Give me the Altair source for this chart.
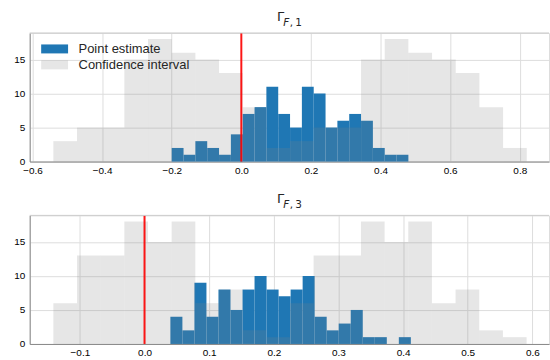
import altair as alt
import pandas as pd

# ---------------- data ----------------
SERIES = ["Point estimate", "Confidence interval"]
SERIES_COLORS = ["#1f77b4", "#808080"]
SERIES_OPACITY = [1.0, 0.2]

TOP_POINT_COUNTS = [2, 1, 3, 2, 1, 4, 7, 8, 11, 7, 5, 11, 10, 5, 6, 7, 6, 2, 1, 1]
TOP_POINT_RANGE = [-0.2, 0.48]
TOP_CI_COUNTS = [3, 5, 5, 15, 18, 16, 15, 13, 8, 2, 3, 5, 5, 15, 18, 16, 15, 13, 8, 2]
TOP_CI_RANGE = [-0.54, 0.82]

BOT_POINT_COUNTS = [4, 2, 9, 4, 8, 5, 8, 10, 8, 7, 8, 10, 4, 2, 3, 5, 1, 1, 0, 1]
BOT_POINT_RANGE = [0.040, 0.412]
BOT_CI_COUNTS = [6, 13, 13, 18, 15, 18, 6, 8, 2, 1, 6, 13, 13, 18, 15, 18, 6, 8, 2, 1]
BOT_CI_RANGE = [-0.141, 0.591]

TOP_XTICKS = [-0.6, -0.4, -0.2, 0.0, 0.2, 0.4, 0.6, 0.8]
BOT_XTICKS = [-0.1, 0.0, 0.1, 0.2, 0.3, 0.4, 0.5, 0.6]
Y_TICKS = [0, 5, 10, 15]
ZERO_LINE = [0.0]

TOP_TITLE = ["Γ", "F", ",\u20091"]
BOT_TITLE = ["Γ", "F", ",\u20093"]

# ---------------- layout ----------------
W, H = 521, 129
GRID = "#cccccc"
TXT = "#262626"
FONT = "Liberation Sans"


def hist_table(point_counts, point_range, ci_counts, ci_range):
    rows = []
    for name, counts, rng in ((SERIES[0], point_counts, point_range),
                              (SERIES[1], ci_counts, ci_range)):
        n = len(counts)
        w = (rng[1] - rng[0]) / n
        for i, c in enumerate(counts):
            rows.append({"series": name, "x0": rng[0] + i * w,
                         "x1": rng[0] + (i + 1) * w, "count": c})
    return pd.DataFrame(rows)


def panel(df, domain, xticks, leg_x, leg_y, title):
    xs = alt.Scale(domain=domain, nice=False, zero=False)
    bars = alt.Chart(df).mark_rect(strokeWidth=0).encode(
        x=alt.X("x0:Q", scale=xs, title=None,
                axis=alt.Axis(values=xticks, format=".1f", ticks=False,
                              labelPadding=4, grid=True)),
        x2="x1:Q",
        y=alt.Y("count:Q", stack=None, title=None,
                scale=alt.Scale(domain=[0, 18.9], nice=False),
                axis=alt.Axis(values=Y_TICKS, ticks=False, labelPadding=5,
                              grid=True)),
        y2=alt.datum(0),
        color=alt.Color("series:N",
                        scale=alt.Scale(domain=SERIES, range=SERIES_COLORS),
                        legend=alt.Legend(
                            title=None, orient="none", legendX=leg_x,
                            legendY=leg_y,
                            symbolType="M-1.5,-0.5H1.5V0.5H-1.5Z",
                            symbolSize=324, symbolStrokeWidth=0,
                            labelFont=FONT, labelFontSize=13,
                            labelColor=TXT, labelOffset=15, rowPadding=0,
                            padding=0)),
        opacity=alt.Opacity("series:N",
                            scale=alt.Scale(domain=SERIES,
                                            range=SERIES_OPACITY)),
    )
    zero = alt.Chart(pd.DataFrame({"x": ZERO_LINE})).mark_rule(
        color="#ff0000", strokeWidth=2, opacity=0.9
    ).encode(x=alt.X("x:Q", scale=xs))
    one = pd.DataFrame({"k": [0]})
    top_border = alt.Chart(one).mark_rule(color=GRID, strokeWidth=1).encode(
        x=alt.value(0), x2=alt.value(W), y=alt.value(0))
    t1 = alt.Chart(one).mark_text(
        font="DejaVu Sans", fontSize=13, align="left", baseline="alphabetic",
        color=TXT).encode(x=alt.value(248), y=alt.value(-12),
                          text=alt.value(title[0]))
    t2 = alt.Chart(one).mark_text(
        font="DejaVu Sans", fontSize=10.5, fontStyle="italic", align="left",
        baseline="alphabetic", color=TXT).encode(
        x=alt.value(254.5), y=alt.value(-7.5), text=alt.value(title[1]))
    t3 = alt.Chart(one).mark_text(
        font="DejaVu Sans", fontSize=10.5, align="left",
        baseline="alphabetic", color=TXT).encode(
        x=alt.value(261), y=alt.value(-7.5), text=alt.value(title[2]))
    return alt.layer(bars, zero, top_border, t1, t2, t3).properties(
        width=W, height=H)


top = panel(hist_table(TOP_POINT_COUNTS, TOP_POINT_RANGE,
                       TOP_CI_COUNTS, TOP_CI_RANGE),
            [-0.608, 0.884], TOP_XTICKS, 16, 7, TOP_TITLE)
bottom = panel(hist_table(BOT_POINT_COUNTS, BOT_POINT_RANGE,
                          BOT_CI_COUNTS, BOT_CI_RANGE),
               [-0.1776, 0.6257], BOT_XTICKS, 365, 8, BOT_TITLE)

chart = alt.vconcat(top, bottom, spacing=54, bounds="flush").properties(
    padding={"left": 12.8, "top": 9.5, "right": 0, "bottom": 0}
).configure_view(stroke=None).configure_axis(
    domainColor=GRID, domainWidth=1, gridColor=GRID, gridWidth=1,
    labelFont=FONT, labelFontSize=13, labelColor=TXT
).configure(background="white")

chart.save("out.html", embed_options={"renderer": "svg", "actions": False})
